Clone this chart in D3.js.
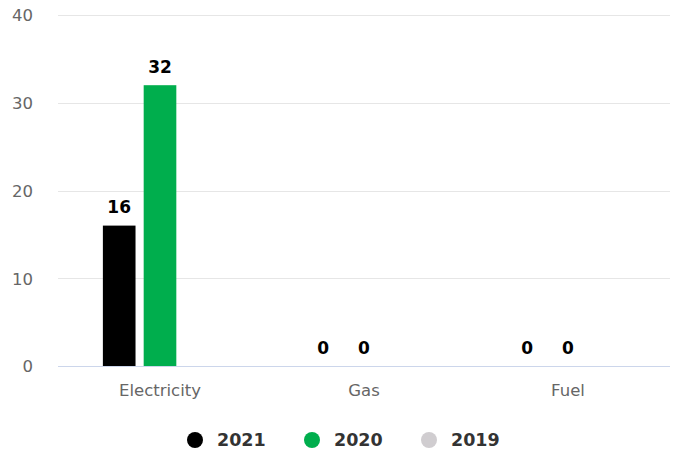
<!DOCTYPE html>
<html>
<head>
<meta charset="utf-8">
<script src="https://cdn.jsdelivr.net/npm/d3@7"></script>
<style>
  html, body { margin: 0; padding: 0; background: #fff; }
  svg { display: block; font-family: "DejaVu Sans", sans-serif; }
</style>
</head>
<body>
<svg id="chart" width="677" height="450"></svg>
<script>
// Consumption by energy source, per year
const categories = ["Electricity", "Gas", "Fuel"];
const seriesNames = ["2021", "2020", "2019"];
const values2021 = [16, 0, 0];
const values2020 = [32, 0, 0];
const values2019 = [null, null, null];
const seriesColors = ["#000000", "#00ae4d", "#d0cdd0"];
const yTicks = [0, 10, 20, 30, 40];

const seriesValues = [values2021, values2020, values2019];

const svg = d3.select("#chart");
const margin = { left: 58, right: 7, top: 15, bottom: 84 };
const W = 677, H = 450;
const plotW = W - margin.left - margin.right;
const plotH = H - margin.top - margin.bottom;

const g = svg.append("g").attr("transform", `translate(${margin.left},${margin.top})`);

const x0 = d3.scaleBand().domain(categories).range([0, plotW]).paddingInner(0).paddingOuter(0);
const groupPad = 0.2;
const x1 = d3.scaleBand().domain(seriesNames)
  .range([x0.bandwidth() * groupPad, x0.bandwidth() * (1 - groupPad)])
  .paddingInner(0.2).paddingOuter(0.1);
const y = d3.scaleLinear().domain([0, 40]).range([plotH, 0]);

// grid lines
g.append("g").selectAll("line").data(yTicks.filter(t => t !== 0)).join("line")
  .attr("x1", 0).attr("x2", plotW)
  .attr("y1", d => Math.round(y(d)) + 0.5).attr("y2", d => Math.round(y(d)) + 0.5)
  .attr("stroke", "#e6e6e6").attr("stroke-width", 1);

// y axis labels
const yAxis = d3.axisLeft(y).tickValues(yTicks).tickSize(0).tickPadding(25);
const ya = g.append("g").call(yAxis);
ya.select(".domain").remove();
ya.selectAll("text").attr("fill", "#666666").attr("font-size", 16.5).attr("dy", "0.35em")
  .attr("font-family", "DejaVu Sans, sans-serif");

// bars
const groups = g.append("g").selectAll("g").data(categories).join("g")
  .attr("transform", d => `translate(${x0(d)},0)`);

groups.each(function(cat, ci) {
  const gg = d3.select(this);
  seriesNames.forEach((s, si) => {
    const v = seriesValues[si][ci];
    if (v === null) return;
    const bx = x1(s);
    const bw = x1.bandwidth();
    if (v > 0) {
      gg.append("rect")
        .attr("x", bx).attr("y", y(v))
        .attr("width", bw).attr("height", y(0) - y(v))
        .attr("fill", seriesColors[si]);
    }
    gg.append("text")
      .attr("x", bx + bw / 2).attr("y", y(v) - 12.5)
      .attr("text-anchor", "middle")
      .attr("font-size", 17).attr("font-weight", "bold").attr("fill", "#000")
      .text(v);
  });
});

// x axis
const xa = g.append("g").attr("transform", `translate(0,${plotH})`)
  .call(d3.axisBottom(x0).tickSize(0).tickPadding(0));
xa.select(".domain").attr("stroke", "#ccd6eb").attr("d", `M0,0.5H${plotW}`);
xa.selectAll("text").attr("fill", "#666666").attr("font-size", 16.5)
  .attr("dy", null).attr("y", 30)
  .attr("font-family", "DejaVu Sans, sans-serif");

// legend
const legendX = [195, 312, 429];
const legend = svg.append("g").attr("transform", "translate(0,440)");
seriesNames.forEach((s, i) => {
  legend.append("circle").attr("cx", legendX[i]).attr("cy", 0).attr("r", 8)
    .attr("fill", seriesColors[i]);
  legend.append("text").attr("x", legendX[i] + 22).attr("y", 0).attr("dy", "0.35em")
    .attr("font-size", 17.5).attr("font-weight", "bold").attr("fill", "#333333")
    .text(s);
});
</script>
</body>
</html>
